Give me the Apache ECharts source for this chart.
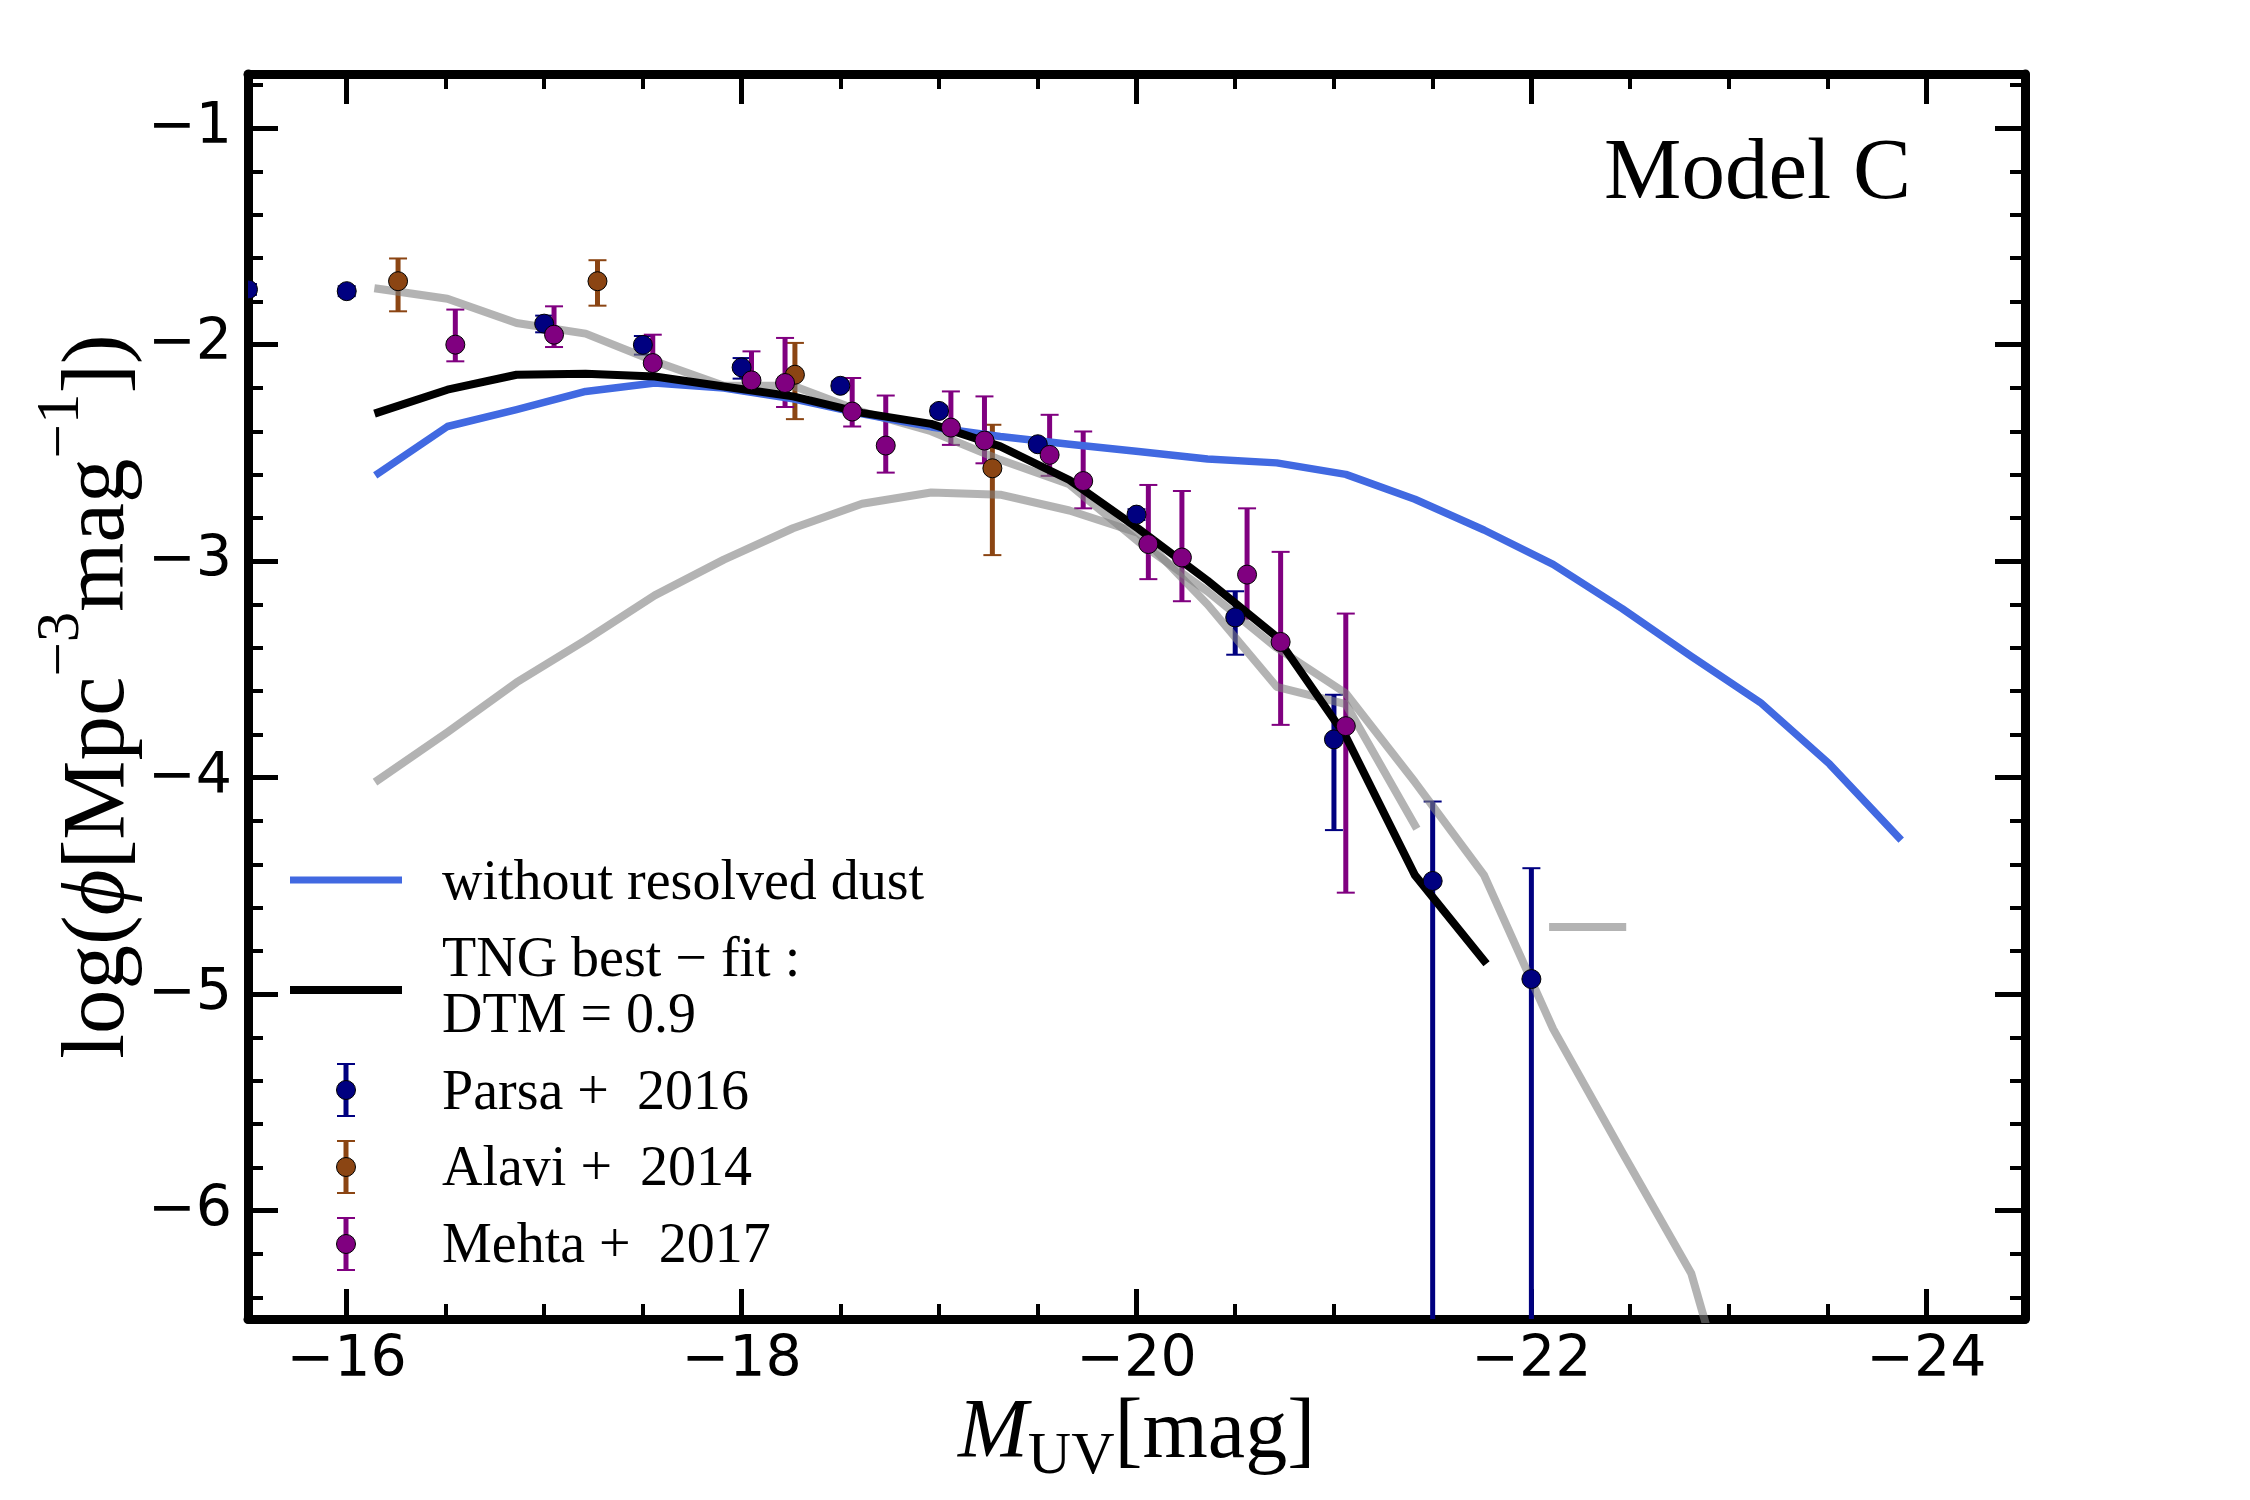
<!DOCTYPE html>
<html>
<head>
<meta charset="utf-8">
<title>Model C</title>
<script src="https://cdn.jsdelivr.net/npm/echarts@6/dist/echarts.min.js"></script>
<style>
  html, body { margin: 0; padding: 0; background: #fff; }
  #main { width: 2250px; height: 1500px; }
</style>
</head>
<body>
<div id="main"></div>
<script>
// magnitude bins of the model curves
var modelM = [-16.16, -16.51, -16.86, -17.21, -17.56, -17.91, -18.26, -18.61, -18.96, -19.31, -19.66, -20.01,
  -20.36, -20.71, -21.06, -21.41, -21.76, -22.11, -22.46, -22.81, -23.16, -23.51, -23.86];

// without resolved dust (blue)
var noDust = [-2.594, -2.378, -2.30, -2.216, -2.177, -2.20, -2.25, -2.32, -2.38, -2.424, -2.46, -2.493,
  -2.528, -2.546, -2.599, -2.714, -2.856, -3.015, -3.219, -3.44, -3.653, -3.937, -4.276];
// TNG best-fit, DTM = 0.9 (black)
var bestFit = [-2.313, -2.208, -2.139, -2.134, -2.147, -2.193, -2.239, -2.315, -2.366, -2.47, -2.625, -2.85,
  -3.09, -3.35, -3.81, -4.45, -4.845];
// grey model curves
var greyA = [-4.01, -3.79, -3.56, -3.365, -3.158, -2.993, -2.848, -2.735, -2.683, -2.693, -2.766, -2.87,
  -3.20, -3.58, -3.66, -4.22];
var greyB = [-1.742, -1.788, -1.90, -1.949, -2.077, -2.19, -2.19, -2.31, -2.40, -2.532, -2.645, -2.91,
  -3.14, -3.40, -3.61, -4.02, -4.45, -5.16, -5.73, -6.29, -7.4];
var greyCM = [-22.11, -22.46];
var greyC = [-4.69, -4.69];

// observations
var parsaM = [-15.5, -16.0, -17.0, -17.5, -18.0, -18.5, -19.0, -19.5, -20.0, -20.5, -21.0, -21.5, -22.0];
var parsaPhi = [-1.745, -1.753, -1.903, -2.001, -2.105, -2.19, -2.306, -2.46, -2.785, -3.26, -3.823, -4.477, -4.93];
var parsaHi = [-1.72, -1.73, -1.866, -1.96, -2.062, -2.17, -2.286, -2.44, -2.76, -3.139, -3.617, -4.11, -4.418];
var parsaLo = [-1.77, -1.776, -1.943, -2.046, -2.157, -2.21, -2.326, -2.48, -2.81, -3.432, -4.242, -9, -9];

var alaviM = [-16.26, -17.27, -18.27, -19.27];
var alaviPhi = [-1.707, -1.707, -2.139, -2.571];
var alaviHi = [-1.602, -1.61, -1.992, -2.37];
var alaviLo = [-1.846, -1.82, -2.344, -2.972];

var mehtaM = [-16.55, -17.05, -17.55, -18.05, -18.22, -18.56, -18.73, -19.06, -19.23, -19.56, -19.73, -20.06,
  -20.23, -20.56, -20.73, -21.06];
var mehtaPhi = [-2.0, -1.954, -2.085, -2.165, -2.177, -2.309, -2.466, -2.383, -2.443, -2.509, -2.63, -2.921,
  -2.983, -3.062, -3.373, -3.762];
var mehtaHi = [-1.838, -1.823, -1.954, -2.031, -1.969, -2.154, -2.235, -2.216, -2.239, -2.324, -2.401, -2.648,
  -2.676, -2.756, -2.957, -3.242];
var mehtaLo = [-2.077, -2.011, -2.144, -2.224, -2.288, -2.378, -2.591, -2.463, -2.548, -2.606, -2.756, -3.083,
  -3.185, -3.265, -3.756, -4.531];

// ticks
var xMajor = [-24, -22, -20, -18, -16];
var xMinor = [-24, -23.5, -23, -22.5, -22, -21.5, -21, -20.5, -20, -19.5, -19, -18.5, -18, -17.5, -17, -16.5, -16];
var yMajor = [-6, -5, -4, -3, -2, -1];
var yMinor = [-6.4, -6.2, -5.8, -5.6, -5.4, -5.2, -4.8, -4.6, -4.4, -4.2, -3.8, -3.6, -3.4, -3.2,
  -2.8, -2.6, -2.4, -2.2, -1.8, -1.6, -1.4, -1.2, -0.8];

var serif = "'Liberation Serif', 'DejaVu Serif', serif";
var sans = "'DejaVu Sans', sans-serif";

var colors = {
  parsa: '#000080',
  alavi: '#8B4513',
  mehta: '#800080',
  noDust: '#4169E1',
  grey: 'rgba(128,128,128,0.6)'
};

function pairs(xs, ys) {
  return ys.map(function (y, i) { return [xs[i], y]; });
}

function withErrors(xs, ys, hi, lo) {
  return xs.map(function (x, i) { return [x, ys[i], hi[i], lo[i]]; });
}

function minus(v) {
  return v < 0 ? '\u2212' + Math.abs(v) : String(v);
}

function renderBar(params, api) {
  var x = api.value(0);
  var top = api.coord([x, api.value(2)]);
  var bot = api.coord([x, api.value(3)]);
  var c = api.visual('color');
  var w = 9;
  return {
    type: 'group',
    children: [
      { type: 'line', shape: { x1: top[0], y1: top[1], x2: bot[0], y2: bot[1] }, style: { stroke: c, lineWidth: 5 } },
      { type: 'line', shape: { x1: top[0] - w, y1: top[1], x2: top[0] + w, y2: top[1] }, style: { stroke: c, lineWidth: 2 } },
      { type: 'line', shape: { x1: bot[0] - w, y1: bot[1], x2: bot[0] + w, y2: bot[1] }, style: { stroke: c, lineWidth: 2 } }
    ]
  };
}

function renderDot(params, api) {
  var p = api.coord([api.value(0), api.value(1)]);
  return {
    type: 'circle',
    shape: { cx: p[0], cy: p[1], r: 9.5 },
    style: { fill: api.visual('color'), stroke: '#000', lineWidth: 1 }
  };
}

function barSeries(name, color, data) {
  return {
    name: name, type: 'custom', renderItem: renderBar, data: data,
    itemStyle: { color: color }, encode: { x: 0, y: [1, 2, 3] }, clip: true, silent: true, z: 1
  };
}

function dotSeries(name, color, data) {
  return {
    name: name, type: 'custom', renderItem: renderDot, data: data,
    itemStyle: { color: color }, encode: { x: 0, y: 1 }, clip: true, silent: true, z: 6
  };
}

function curve(name, color, width, data, z) {
  return {
    name: name, type: 'line', data: data, showSymbol: false, silent: true, z: z, clip: true,
    lineStyle: { color: color, width: width, join: 'round', cap: 'square' }
  };
}

function xAxisCfg(position, values, len, width, line, labels) {
  return {
    type: 'value', min: -24.5, max: -15.5, inverse: true, position: position,
    axisLine: { show: line, onZero: false, lineStyle: { color: '#000', width: 9 } },
    axisTick: { inside: true, length: len, customValues: values, lineStyle: { color: '#000', width: width } },
    axisLabel: labels ? {
      customValues: values, formatter: minus, margin: 14,
      fontFamily: sans, fontSize: 57, color: '#000'
    } : { show: false },
    splitLine: { show: false }
  };
}

function yAxisCfg(position, values, len, width, line, labels) {
  return {
    type: 'value', min: -6.5, max: -0.75, position: position,
    axisLine: { show: line, onZero: false, lineStyle: { color: '#000', width: 9 } },
    axisTick: { inside: true, length: len, customValues: values, lineStyle: { color: '#000', width: width } },
    axisLabel: labels ? {
      customValues: values, formatter: minus, margin: 16,
      fontFamily: sans, fontSize: 57, color: '#000'
    } : { show: false },
    splitLine: { show: false }
  };
}

var xBottom = xAxisCfg('bottom', xMajor, 30, 5, true, true);
xBottom.name = '{i|M}{b|UV}{n|[mag]}';
xBottom.nameLocation = 'middle';
xBottom.nameGap = 74;
xBottom.nameMoveOverlap = false;
xBottom.nameTextStyle = {
  color: '#000',
  rich: {
    i: { fontFamily: serif, fontSize: 84, lineHeight: 84, fontStyle: 'italic', verticalAlign: 'top', color: '#000' },
    b: { fontFamily: serif, fontSize: 60, lineHeight: 60, padding: [34, 0, 0, 0], verticalAlign: 'top', color: '#000' },
    n: { fontFamily: serif, fontSize: 84, lineHeight: 84, verticalAlign: 'top', color: '#000' }
  }
};

var yLeft = yAxisCfg('left', yMajor, 30, 5, true, true);
yLeft.name = '{n|log(}{i|\u03d5}{n|[Mpc}{s|\u22123}{n|mag}{s|\u22121}{n|])}';
yLeft.nameLocation = 'middle';
yLeft.nameRotate = 90;
yLeft.nameGap = 79;
yLeft.nameMoveOverlap = false;
yLeft.nameTextStyle = {
  color: '#000',
  rich: {
    n: { fontFamily: serif, fontSize: 89, lineHeight: 138, color: '#000' },
    i: { fontFamily: serif, fontSize: 89, lineHeight: 138, fontStyle: 'italic', color: '#000' },
    s: { fontFamily: serif, fontSize: 61, lineHeight: 61, verticalAlign: 'top', color: '#000' }
  }
};

// legend drawn by hand, matplotlib style
var legendX = 346, textX = 442;
function legendLine(color, width, y) {
  return { type: 'line', shape: { x1: 290, y1: y, x2: 402, y2: y }, style: { stroke: color, lineWidth: width } };
}
function legendBar(color, y) {
  return [
    { type: 'line', shape: { x1: legendX, y1: y - 26, x2: legendX, y2: y + 26 }, style: { stroke: color, lineWidth: 5 } },
    { type: 'line', shape: { x1: legendX - 9, y1: y - 26, x2: legendX + 9, y2: y - 26 }, style: { stroke: color, lineWidth: 2 } },
    { type: 'line', shape: { x1: legendX - 9, y1: y + 26, x2: legendX + 9, y2: y + 26 }, style: { stroke: color, lineWidth: 2 } },
    { type: 'circle', shape: { cx: legendX, cy: y, r: 9.5 }, style: { fill: color, stroke: '#000', lineWidth: 1 } }
  ];
}
function legendText(text, y) {
  return {
    type: 'text', x: textX, y: y,
    style: { text: text, fontFamily: serif, fontSize: 56, fill: '#000', verticalAlign: 'middle', textVerticalAlign: 'middle' }
  };
}

var legendItems = [
  legendLine(colors.noDust, 7, 880),
  legendText('without resolved dust', 884),
  legendLine('#000', 8, 990),
  legendText('TNG best \u2212 fit :', 961),
  legendText('DTM = 0.9', 1017),
  legendText('Parsa +  2016', 1094),
  legendText('Alavi +  2014', 1170),
  legendText('Mehta +  2017', 1247)
].concat(legendBar(colors.parsa, 1090), legendBar(colors.alavi, 1167), legendBar(colors.mehta, 1244));

legendItems.push({
  type: 'text', x: 1911, y: 175,
  style: {
    text: 'Model C', fontFamily: serif, fontSize: 87, fill: '#000',
    align: 'right', textAlign: 'right', verticalAlign: 'middle', textVerticalAlign: 'middle'
  }
});

var chart = echarts.init(document.getElementById('main'));
chart.setOption({
  backgroundColor: '#fff',
  animation: false,
  grid: { left: 248, right: 225, top: 74, bottom: 181, outerBoundsMode: 'none' },
  xAxis: [
    xBottom,
    xAxisCfg('bottom', xMinor, 15, 4, false, false),
    xAxisCfg('top', xMajor, 30, 5, true, false),
    xAxisCfg('top', xMinor, 15, 4, false, false)
  ],
  yAxis: [
    yLeft,
    yAxisCfg('left', yMinor, 15, 4, false, false),
    yAxisCfg('right', yMajor, 30, 5, true, false),
    yAxisCfg('right', yMinor, 15, 4, false, false)
  ],
  graphic: { elements: [{ type: 'group', z: 10, children: legendItems }] },
  series: [
    barSeries('Parsa+ 2016', colors.parsa, withErrors(parsaM, parsaPhi, parsaHi, parsaLo)),
    barSeries('Alavi+ 2014', colors.alavi, withErrors(alaviM, alaviPhi, alaviHi, alaviLo)),
    barSeries('Mehta+ 2017', colors.mehta, withErrors(mehtaM, mehtaPhi, mehtaHi, mehtaLo)),
    curve('grey A', colors.grey, 8, pairs(modelM, greyA), 2),
    curve('grey B', colors.grey, 8, pairs(modelM, greyB), 2),
    curve('grey C', colors.grey, 8, pairs(greyCM, greyC), 2),
    curve('without resolved dust', colors.noDust, 7.5, pairs(modelM, noDust), 3),
    curve('TNG best-fit: DTM=0.9', '#000', 8, pairs(modelM, bestFit), 4),
    dotSeries('Parsa+ 2016', colors.parsa, pairs(parsaM, parsaPhi)),
    dotSeries('Alavi+ 2014', colors.alavi, pairs(alaviM, alaviPhi)),
    dotSeries('Mehta+ 2017', colors.mehta, pairs(mehtaM, mehtaPhi))
  ]
});
</script>
</body>
</html>
